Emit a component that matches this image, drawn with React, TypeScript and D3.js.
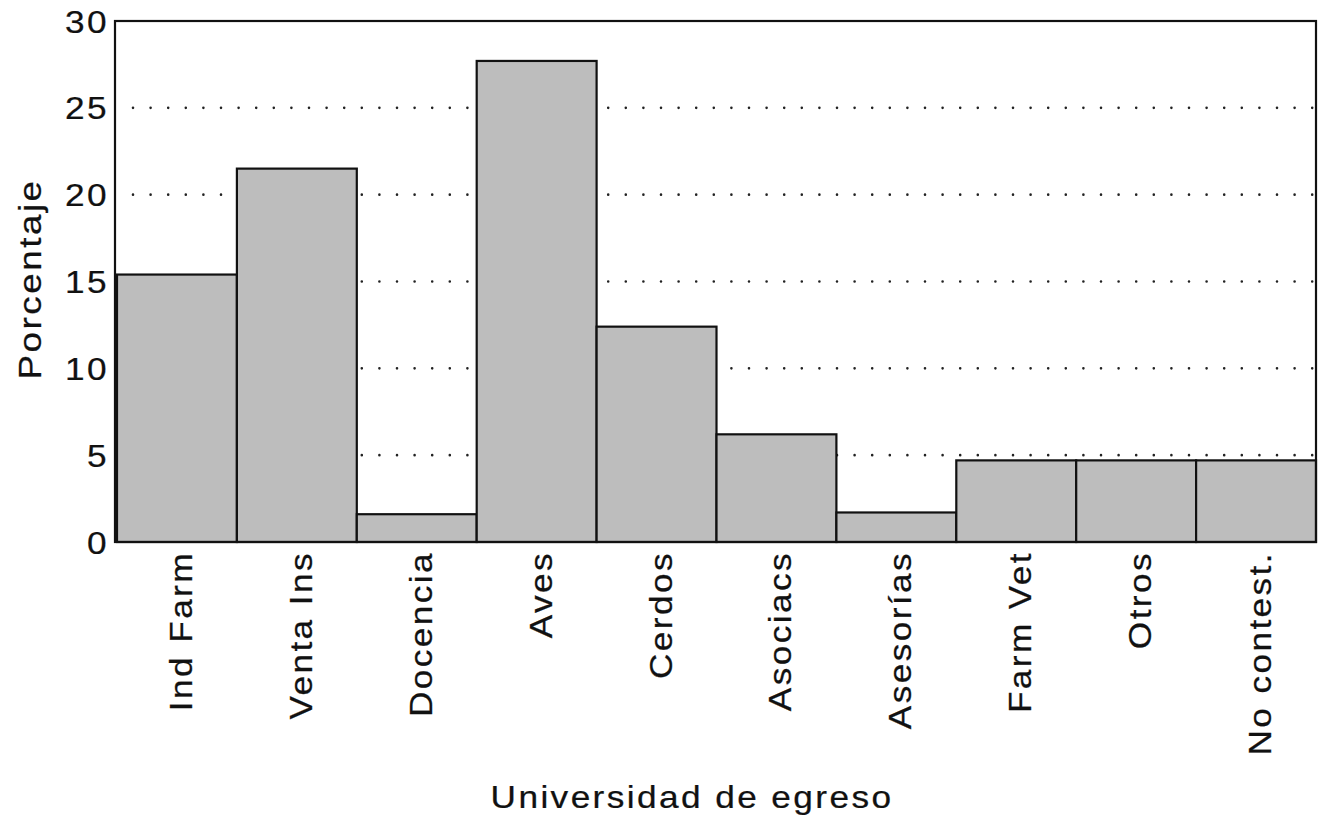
import React, { useEffect, useRef } from "react";
import * as d3 from "d3";

const categories = [
  "Ind Farm",
  "Venta Ins",
  "Docencia",
  "Aves",
  "Cerdos",
  "Asociacs",
  "Asesorías",
  "Farm Vet",
  "Otros",
  "No contest.",
];
const values = [15.4, 21.5, 1.6, 27.7, 12.4, 6.2, 1.7, 4.7, 4.7, 4.7];
const yTicks = [0, 5, 10, 15, 20, 25, 30];
const gridTicks = [5, 10, 15, 20, 25];
const yTitle = "Porcentaje";
const xTitle = "Universidad de egreso";

export default function App() {
  const ref = useRef<SVGSVGElement>(null);

  useEffect(() => {
    const W = 1318,
      H = 836;
    const left = 115,
      right = 1316,
      top = 21,
      bottom = 542;
    const font = "'Liberation Sans', Arial, Helvetica, sans-serif";
    const stretch = 1.1;

    const svg = d3.select(ref.current).attr("width", W).attr("height", H);
    svg.selectAll("*").remove();

    const x = d3
      .scaleBand()
      .domain(categories)
      .range([left + 2, right])
      .padding(0);
    const y = d3.scaleLinear().domain([0, 30]).range([bottom, top]);

    // dotted grid (drawn under the bars)
    svg
      .append("g")
      .selectAll("line")
      .data(gridTicks)
      .join("line")
      .attr("x1", left + 18)
      .attr("x2", right)
      .attr("y1", (d) => y(d))
      .attr("y2", (d) => y(d))
      .attr("stroke", "#222")
      .attr("stroke-width", 2.6)
      .attr("stroke-linecap", "round")
      .attr("stroke-dasharray", "0 17.6");

    // bars
    svg
      .append("g")
      .selectAll("rect")
      .data(values)
      .join("rect")
      .attr("x", (d, i) => x(categories[i]) as number)
      .attr("y", (d) => y(d))
      .attr("width", x.bandwidth())
      .attr("height", (d) => y(0) - y(d))
      .attr("fill", "#bdbdbd")
      .attr("stroke", "#111")
      .attr("stroke-width", 2.2);

    // frame
    svg
      .append("rect")
      .attr("x", left)
      .attr("y", top)
      .attr("width", right - left)
      .attr("height", bottom - top)
      .attr("fill", "none")
      .attr("stroke", "#111")
      .attr("stroke-width", 2.2);

    const addText = (sel: any) =>
      sel
        .attr("font-family", font)
        .attr("font-size", 32)
        .attr("letter-spacing", 2.2)
        .attr("fill", "#111")
        .attr("stroke", "#111")
        .attr("stroke-width", 0.25);

    // y tick labels
    svg
      .append("g")
      .selectAll("text")
      .data(yTicks)
      .join("text")
      .attr("transform", (d) => `translate(109, ${y(d) + 11.5}) scale(${stretch},1)`)
      .attr("text-anchor", "end")
      .call(addText)
      .text((d) => d);

    // x labels (rotated)
    svg
      .append("g")
      .selectAll("text")
      .data(categories)
      .join("text")
      .attr(
        "transform",
        (d) =>
          `translate(${(x(d) as number) + x.bandwidth() / 2 + 15}, 551) rotate(-90) scale(${stretch},1)`
      )
      .attr("text-anchor", "end")
      .call(addText)
      .text((d) => d);

    // axis titles
    svg
      .append("text")
      .attr("transform", `translate(41, 279) rotate(-90) scale(1.15,1)`)
      .attr("text-anchor", "middle")
      .call(addText)
      .text(yTitle);

    svg
      .append("text")
      .attr("transform", `translate(692, 808) scale(${stretch},1)`)
      .attr("text-anchor", "middle")
      .call(addText)
      .text(xTitle);
  }, []);

  return (
    <div style={{ position: "absolute", left: 0, top: 0, background: "#fff" }}>
      <svg ref={ref} style={{ display: "block" }}></svg>
    </div>
  );
}
